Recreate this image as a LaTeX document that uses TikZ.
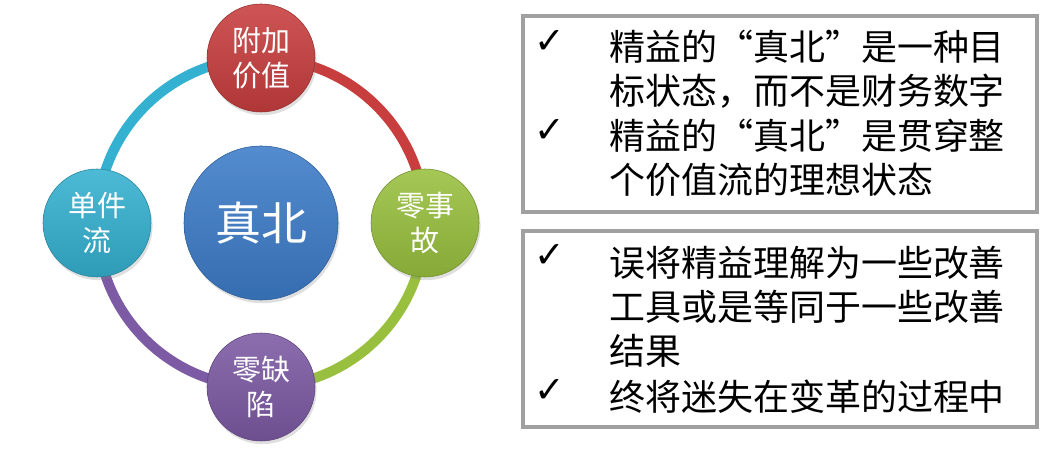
\documentclass[tikz,border=0pt]{standalone}
\usepackage{fontspec}
\setmainfont{Noto Sans CJK SC}
\newfontfamily\symfont{DejaVu Sans}
\usetikzlibrary{backgrounds,shadows}

\definecolor{ballred}{RGB}{200,62,62}
\definecolor{ballblue}{RGB}{60,124,200}
\definecolor{ballcyan}{RGB}{52,176,208}
\definecolor{ballgreen}{RGB}{152,192,62}
\definecolor{ballpurple}{RGB}{124,90,164}
\definecolor{boxgray}{RGB}{160,160,160}

\begin{document}
\begin{tikzpicture}[
    ball/.style={circle, minimum size=2.7cm, inner sep=0pt, text=white, align=center,
        top color=#1!88!white, bottom color=#1!88!black, draw=#1!75!black, thin,
        font=\fontsize{20.6}{24.8}\selectfont,
        drop shadow={opacity=0.25, shadow xshift=0.04cm, shadow yshift=-0.08cm}},
    ring/.style={line width=0.25cm, bend left=45, draw=#1},
    panel/.style={draw=boxgray, line width=0.1cm, minimum width=12.85cm,
        minimum height=4.9cm, anchor=north west},
    item/.style={anchor=west, inner sep=0pt, align=left,
        font=\fontsize{25.6}{31.5}\selectfont},
    tick/.style={inner sep=0pt, font=\symfont\fontsize{26}{26}\selectfont}
]

\useasboundingbox (0,0) rectangle (26.425,11.35);

% ================= Cercle : le vrai nord =================

\node[ball=ballblue, minimum size=3.85cm, font=\fontsize{32.7}{36}\selectfont] (north) at (6.525,5.775) {真北};

\node[ball=ballred]    (value)   at (6.525,9.9)   {附加\\价值};
\node[ball=ballgreen]  (safety)  at (10.625,5.775) {零事\\故};
\node[ball=ballpurple] (quality) at (6.525,1.675) {零缺\\陷};
\node[ball=ballcyan]   (flow)    at (2.425,5.775) {单件\\流};

\begin{scope}[on background layer]
\draw[ring=ballred]    (value.center)   to (safety.center);
\draw[ring=ballgreen]  (safety.center)  to (quality.center);
\draw[ring=ballpurple] (quality.center) to (flow.center);
\draw[ring=ballcyan]   (flow.center)    to (value.center);
\end{scope}

% ================= Cadre 1 =================

\node[panel] (box1) at (13.025,11.0) {};

\node[tick] (c1) at (13.75,10.3)  {✓};
\node[item] (t1) at (15.22,9.6125) {精益的“真北”是一种目\\标状态，而不是财务数字};
\node[tick] (c2) at (13.75,8.075) {✓};
\node[item] (t2) at (15.22,7.4125) {精益的“真北”是贯穿整\\个价值流的理想状态};

% ================= Cadre 2 =================

\node[panel] (box2) at (13.025,5.625) {};

\node[tick] (c3) at (13.75,4.95)  {✓};
\node[item] (t3) at (15.22,3.675) {误将精益理解为一些改善\\工具或是等同于一些改善\\结果};
\node[tick] (c4) at (13.75,1.575) {✓};
\node[item] (t4) at (15.22,1.425) {终将迷失在变革的过程中};

\end{tikzpicture}
\end{document}
